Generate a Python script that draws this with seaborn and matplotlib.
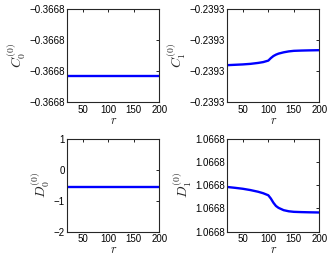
import numpy as np
import pandas as pd
import matplotlib
matplotlib.use('Agg')
import matplotlib.pyplot as plt
import seaborn as sns
from matplotlib.ticker import FuncFormatter

# sample points
r = [20, 35, 50, 65, 80, 90, 100, 105, 110, 115, 120, 130, 140, 150, 165, 180, 200]

c0 = [-0.3668315] * len(r)
c1 = [-0.23932803, -0.23932791, -0.23932779, -0.23932761, -0.23932731, -0.23932704,
      -0.23932656, -0.23932575, -0.23932509, -0.23932464, -0.23932431, -0.23932389,
      -0.23932359, -0.23932341, -0.23932332, -0.23932326, -0.23932320]
d0 = [-0.56] * len(r)
d1 = [1.06679832, 1.06679760, 1.06679680, 1.06679568, 1.06679424, 1.06679296,
      1.06679120, 1.06678840, 1.06678480, 1.06678200, 1.06678040, 1.06677840,
      1.06677744, 1.06677696, 1.06677672, 1.06677656, 1.06677640]

c0_ticks = [-0.36684, -0.36683, -0.36682, -0.36681]
c1_ticks = [-0.23934, -0.23933, -0.23932, -0.23931]
d0_ticks = [-2, -1, 0, 1]
d1_ticks = [1.06676, 1.06678, 1.06680, 1.06682, 1.06684]

sns.set_theme(style='white')
plt.rcParams['font.family'] = ['Liberation Sans', 'DejaVu Sans']
plt.rcParams['mathtext.fontset'] = 'cm'
plt.rcParams['xtick.direction'] = 'in'
plt.rcParams['ytick.direction'] = 'in'

fig = plt.figure(figsize=(3.32, 2.57), dpi=100)
lefts = [0.203, 0.685]
bottoms = [0.602, 0.099]
w, h = 0.277, 0.362

panels = [
    (c0, c0_ticks, r'$C_0^{(0)}$', 4),
    (c1, c1_ticks, r'$C_1^{(0)}$', 4),
    (d0, d0_ticks, r'$D_0^{(0)}$', 0),
    (d1, d1_ticks, r'$D_1^{(0)}$', 4),
]

for i, (vals, ticks, lab, dec) in enumerate(panels):
    ax = fig.add_axes([lefts[i % 2], bottoms[i // 2], w, h])
    df = pd.DataFrame({'r': r, 'v': vals})
    sns.lineplot(data=df, x='r', y='v', ax=ax, color='#0000ff', linewidth=1.7)
    ax.set_xlim(20, 200)
    ax.set_xticks([50, 100, 150, 200])
    ax.set_ylim(ticks[0], ticks[-1])
    ax.set_yticks(ticks)
    ax.yaxis.set_major_formatter(
        FuncFormatter(lambda v, p, d=dec: f'{v:.{d}f}'.replace('-', '\u2212')))
    ax.tick_params(labelsize=7, length=2, width=0.6, top=True, right=True,
                   colors='black', pad=2)
    for s in ax.spines.values():
        s.set_color('#262626')
        s.set_linewidth(0.8)
    ax.set_xlabel(r'$r$', fontsize=9, labelpad=0)
    ax.set_ylabel(lab, fontsize=10, labelpad=1)

fig.savefig('out.png', dpi=100)
